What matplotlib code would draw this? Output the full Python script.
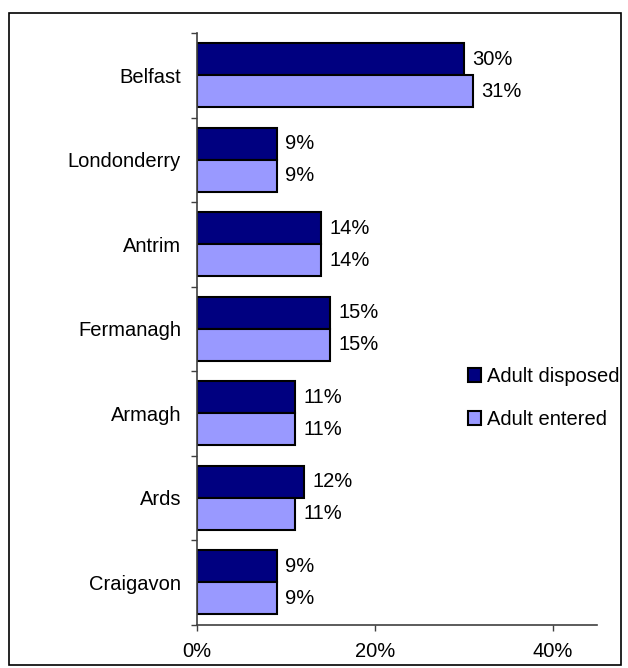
import matplotlib
matplotlib.use("Agg")
import matplotlib.pyplot as plt
from matplotlib.patches import Rectangle
import numpy as np

plt.rcParams['font.family'] = ['Liberation Sans', 'DejaVu Sans']

categories = ["Belfast", "Londonderry", "Antrim", "Fermanagh", "Armagh", "Ards", "Craigavon"]
adult_disposed = [30, 9, 14, 15, 11, 12, 9]
adult_entered = [31, 9, 14, 15, 11, 11, 9]
series_names = ["Adult disposed", "Adult entered"]
colors = ["#000080", "#9999FF"]
x_ticks = [0, 20, 40]

FS = 14.5
W, H = 628, 668
fig = plt.figure(figsize=(W/100, H/100), dpi=100)
ax = fig.add_axes([197/W, 1 - 624.5/H, 400/W, 591.5/H])

n = len(categories)
y = np.arange(n)
bh = 0.38
for i, (vals, c, name) in enumerate(zip([adult_disposed, adult_entered], colors, series_names)):
    pos = y - bh/2 + i*bh
    ax.barh(pos, vals, height=bh, color=c, edgecolor="black", linewidth=1.5, label=name)
    for p, v in zip(pos, vals):
        ax.annotate(f"{v}%", (v, p), xytext=(6, 0), textcoords="offset points",
                    va="center", ha="left", fontsize=FS)

ax.set_ylim(n - 0.5, -0.5)
ax.set_xlim(0, 45)
ax.set_xticks(x_ticks)
ax.set_xticklabels([f"{t}%" for t in x_ticks], fontsize=FS)
ax.set_yticks(y)
ax.set_yticklabels(categories, fontsize=FS)
ax.tick_params(axis='y', length=0, pad=11.5)
ax.set_yticks(np.arange(-0.5, n, 1), minor=True)
ax.tick_params(axis='y', which='minor', length=4.5, width=1, direction='out', color='#404040')
ax.tick_params(axis='x', length=4.5, width=1, direction='out', color='#404040', pad=8)
for s in ['top', 'right']:
    ax.spines[s].set_visible(False)
for s in ['left', 'bottom']:
    ax.spines[s].set_color('#404040')
    ax.spines[s].set_linewidth(1.2)

leg = ax.legend(loc='center left', bbox_to_anchor=(468/W, 1 - 398/H),
                bbox_transform=fig.transFigure, frameon=False, fontsize=FS,
                handlelength=0.65, handleheight=0.65, handletextpad=0.3, labelspacing=1.2,
                borderaxespad=0, borderpad=0)
for hnd in leg.legend_handles:
    hnd.set_linewidth(1.5)

fig.patches.append(Rectangle((9/W, 1 - 665/H), 612/W, 652/H, transform=fig.transFigure,
                             fill=False, edgecolor='black', linewidth=1.2))

fig.savefig("out.png", dpi=100)
